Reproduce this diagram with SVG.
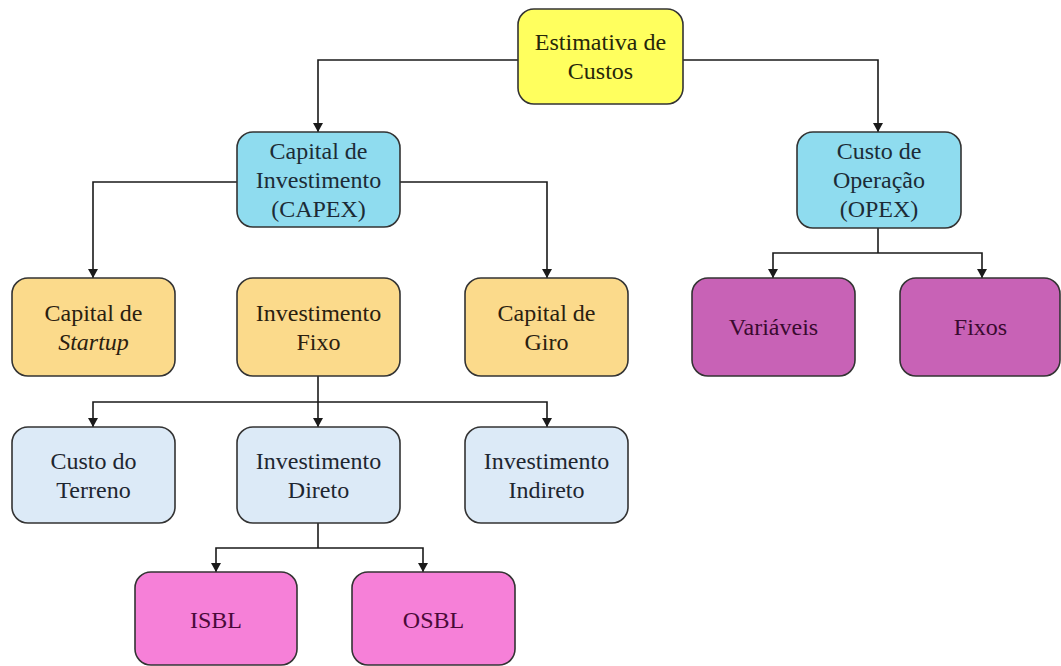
<svg xmlns="http://www.w3.org/2000/svg" width="1061" height="666" viewBox="0 0 1061 666">
<defs>
<marker id="arr" markerUnits="userSpaceOnUse" markerWidth="9" markerHeight="10" refX="9" refY="5" orient="auto">
<path d="M0,0 L9,5 L0,10 z" fill="#1a1a1a"/>
</marker>
<style>
.box{stroke:#333;stroke-width:1.6}
.t{font-family:"Liberation Serif","Times New Roman",serif;font-size:24px;text-anchor:middle}
.yel{fill:#FFFF5E}.yel+text{fill:#26260a}
.cy{fill:#8FDCEF}
.pe{fill:#FBDA8B}
.mg{fill:#C862B6}
.pb{fill:#DCEAF7}
.pk{fill:#F680D8}
.c{fill:none;stroke:#1a1a1a;stroke-width:1.6;marker-end:url(#arr)}
.l{fill:none;stroke:#1a1a1a;stroke-width:1.6}
</style>
</defs>
<rect width="1061" height="666" fill="#fff"/>
<g id="connectors">
<path class="c" d="M518,60 H318 V132"/>
<path class="c" d="M683,60 H878 V132"/>
<path class="c" d="M237,182 H93 V278"/>
<path class="c" d="M400,182 H547 V278"/>
<path class="l" d="M878,228 V253"/>
<path class="c" d="M878,253 H773 V278"/>
<path class="c" d="M878,253 H982 V278"/>
<path class="l" d="M318,376 V402"/>
<path class="c" d="M318,402 H93 V427"/>
<path class="c" d="M318,402 V427"/>
<path class="c" d="M318,402 H547 V427"/>
<path class="l" d="M318,523 V548"/>
<path class="c" d="M318,548 H216 V572"/>
<path class="c" d="M318,548 H423 V572"/>
</g>
<g id="estimativa">
<rect class="box yel" x="518" y="9" width="165" height="95" rx="16"/>
<text class="t" fill="#222"><tspan x="600.5" y="50">Estimativa de</tspan><tspan x="600.5" y="79">Custos</tspan></text>
</g>
<g id="capex">
<rect class="box cy" x="237" y="132" width="163" height="95" rx="16"/>
<text class="t" fill="#1c2b36"><tspan x="318.5" y="159">Capital de</tspan><tspan x="318.5" y="188">Investimento</tspan><tspan x="318.5" y="217">(CAPEX)</tspan></text>
</g>
<g id="opex">
<rect class="box cy" x="797" y="132" width="164" height="96" rx="16"/>
<text class="t" fill="#1c2b36"><tspan x="879" y="159">Custo de</tspan><tspan x="879" y="188">Operação</tspan><tspan x="879" y="217">(OPEX)</tspan></text>
</g>
<g id="startup">
<rect class="box pe" x="12" y="278" width="163" height="98" rx="16"/>
<text class="t" fill="#2a2010"><tspan x="93.5" y="321">Capital de</tspan><tspan x="93.5" y="350" font-style="italic">Startup</tspan></text>
</g>
<g id="fixo">
<rect class="box pe" x="237" y="278" width="163" height="98" rx="16"/>
<text class="t" fill="#2a2010"><tspan x="318.5" y="321">Investimento</tspan><tspan x="318.5" y="350">Fixo</tspan></text>
</g>
<g id="giro">
<rect class="box pe" x="465" y="278" width="163" height="98" rx="16"/>
<text class="t" fill="#2a2010"><tspan x="546.5" y="321">Capital de</tspan><tspan x="546.5" y="350">Giro</tspan></text>
</g>
<g id="variaveis">
<rect class="box mg" x="692" y="278" width="163" height="98" rx="16"/>
<text class="t" fill="#3a0a30" x="773.5" y="335">Variáveis</text>
</g>
<g id="fixos">
<rect class="box mg" x="900" y="278" width="160" height="98" rx="16"/>
<text class="t" fill="#3a0a30" x="980.5" y="335">Fixos</text>
</g>
<g id="terreno">
<rect class="box pb" x="12" y="427" width="163" height="96" rx="16"/>
<text class="t" fill="#1e2630"><tspan x="93.5" y="469">Custo do</tspan><tspan x="93.5" y="498">Terreno</tspan></text>
</g>
<g id="direto">
<rect class="box pb" x="237" y="427" width="163" height="96" rx="16"/>
<text class="t" fill="#1e2630"><tspan x="318.5" y="469">Investimento</tspan><tspan x="318.5" y="498">Direto</tspan></text>
</g>
<g id="indireto">
<rect class="box pb" x="465" y="427" width="163" height="96" rx="16"/>
<text class="t" fill="#1e2630"><tspan x="546.5" y="469">Investimento</tspan><tspan x="546.5" y="498">Indireto</tspan></text>
</g>
<g id="isbl">
<rect class="box pk" x="135" y="572" width="162" height="93" rx="16"/>
<text class="t" fill="#4a0a38" x="216" y="628">ISBL</text>
</g>
<g id="osbl">
<rect class="box pk" x="352" y="572" width="163" height="93" rx="16"/>
<text class="t" fill="#4a0a38" x="433.5" y="628">OSBL</text>
</g>
</svg>
